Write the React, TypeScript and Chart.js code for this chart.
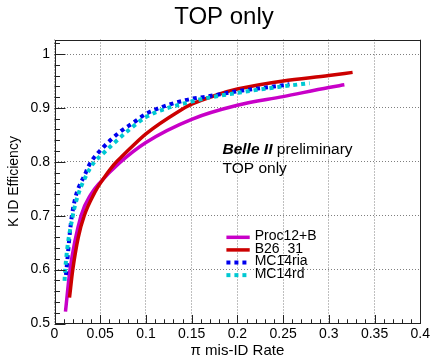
import React, { useEffect, useRef } from 'react';
import { Chart, registerables } from 'chart.js';

Chart.register(...registerables);

const FONT = "'Liberation Sans', Arial, Helvetica, sans-serif";

// ---- texts ----
const chartTitle = 'TOP only';
const xAxisTitle = 'π mis-ID Rate';
const yAxisTitle = 'K ID Efficiency';
const noteBold = 'Belle II';
const noteRest = 'preliminary';
const noteLine2 = 'TOP only';

// ---- ticks ----
const xTickValues = [0, 0.05, 0.1, 0.15, 0.2, 0.25, 0.3, 0.35, 0.4];
const yTickValues = [0.5, 0.6, 0.7, 0.8, 0.9, 1];

// ---- series ----
const seriesLabels = ['Proc12+B', 'B26_31', 'MC14ria', 'MC14rd'];

const proc12X = [0.012, 0.017, 0.029, 0.04, 0.05, 0.071, 0.1, 0.15, 0.2, 0.25, 0.3, 0.317];
const proc12Y = [0.522, 0.6, 0.7, 0.74, 0.762, 0.798, 0.836, 0.879, 0.905, 0.921, 0.938, 0.943];

const b26X = [0.0164, 0.02, 0.026, 0.0325, 0.044, 0.05, 0.065, 0.075, 0.1, 0.137, 0.15, 0.179, 0.2, 0.25, 0.3, 0.326];
const b26Y = [0.548, 0.6, 0.66, 0.7, 0.743, 0.76, 0.795, 0.812, 0.852, 0.895, 0.907, 0.925, 0.935, 0.95, 0.96, 0.966];

const mc14riaX = [0.0125, 0.019, 0.0347, 0.04, 0.0528, 0.0711, 0.0857, 0.1, 0.115, 0.129, 0.15, 0.166, 0.2, 0.25, 0.257];
const mc14riaY = [0.59, 0.7, 0.782, 0.8, 0.826, 0.855, 0.872, 0.889, 0.9, 0.908, 0.917, 0.921, 0.931, 0.942, 0.944];

const mc14rdX = [0.011, 0.0117, 0.02, 0.0255, 0.0347, 0.0437, 0.0528, 0.062, 0.082, 0.1, 0.15, 0.2, 0.25, 0.279];
const mc14rdY = [0.579, 0.6, 0.7, 0.737, 0.775, 0.8, 0.815, 0.83, 0.86, 0.883, 0.912, 0.928, 0.94, 0.946];

const seriesColors = ['#c800c8', '#cc0000', '#0000ee', '#00c8d2'];

const toPoints = (xs: number[], ys: number[]) => xs.map((x, i) => ({ x, y: ys[i] }));

const fmt = (v: number) => String(Number(v.toFixed(2)));

const rootStylePlugin = {
  id: 'rootStyle',
  afterDatasetsDraw(chart: any) {
    const { ctx, chartArea: a, scales } = chart;
    const xs = scales.x;
    const ys = scales.y;
    const w = a.right - a.left;
    const h = a.bottom - a.top;
    ctx.save();
    ctx.strokeStyle = '#222';
    ctx.lineWidth = 1;
    ctx.setLineDash([]);
    ctx.strokeRect(Math.round(a.left) + 0.5, Math.round(a.top) + 0.5, Math.round(w) - 1, Math.round(h) - 1);

    // y-axis ticks (inward)
    for (let i = 0; ; i++) {
      const v = ys.min + i * 0.02;
      if (v > ys.max + 1e-9) break;
      const py = Math.round(ys.getPixelForValue(v)) + 0.5;
      const len = i % 5 === 0 ? 0.03 * w : 0.015 * w;
      ctx.beginPath();
      ctx.moveTo(a.left, py);
      ctx.lineTo(a.left + len, py);
      ctx.stroke();
    }
    // x-axis ticks (inward)
    for (let i = 0; ; i++) {
      const v = xs.min + i * 0.01;
      if (v > xs.max + 1e-9) break;
      const px = Math.round(xs.getPixelForValue(v)) + 0.5;
      const len = i % 5 === 0 ? 0.03 * h : 0.015 * h;
      ctx.beginPath();
      ctx.moveTo(px, a.bottom);
      ctx.lineTo(px, a.bottom - len);
      ctx.stroke();
    }
    ctx.restore();
  },
  afterDraw(chart: any) {
    const { ctx, chartArea: a, width } = chart;
    const w = a.right - a.left;
    const h = a.bottom - a.top;
    ctx.save();
    ctx.fillStyle = '#000';

    // main title
    ctx.font = `24px ${FONT}`;
    ctx.textAlign = 'center';
    ctx.textBaseline = 'alphabetic';
    ctx.fillText(chartTitle, width * 0.5185, 24);

    // annotation
    ctx.textAlign = 'left';
    const nx = a.left + 0.4593 * w;
    const ny1 = a.top + 0.4032 * h;
    const ny2 = a.top + 0.4711 * h;
    ctx.font = `italic bold 15.5px ${FONT}`;
    ctx.fillText(noteBold, nx, ny1);
    const bw = ctx.measureText(noteBold).width;
    ctx.font = `15.5px ${FONT}`;
    const sw = ctx.measureText(' ').width;
    ctx.fillText(noteRest, nx + bw + sw, ny1);
    ctx.fillText(noteLine2, nx, ny2);

    // legend
    const lx1 = a.left + 0.47 * w;
    const lx2 = lx1 + 23.3;
    chart.data.datasets.forEach((ds: any, i: number) => {
      const ry = a.top + (0.6965 + i * 0.0444) * h;
      ctx.save();
      ctx.strokeStyle = ds.borderColor;
      ctx.lineWidth = ds.borderWidth;
      ctx.setLineDash(ds.borderDash || []);
      ctx.beginPath();
      ctx.moveTo(lx1, ry);
      ctx.lineTo(lx2, ry);
      ctx.stroke();
      ctx.restore();
      ctx.font = `14px ${FONT}`;
      ctx.textBaseline = 'middle';
      ctx.fillStyle = '#000';
      ctx.fillText(ds.label, lx2 + 5, ry - 1);
    });
    ctx.restore();
  },
};

export default function App() {
  const canvasRef = useRef<HTMLCanvasElement | null>(null);

  useEffect(() => {
    const canvas = canvasRef.current;
    if (!canvas) return;
    const xsList = [proc12X, b26X, mc14riaX, mc14rdX];
    const ysList = [proc12Y, b26Y, mc14riaY, mc14rdY];
    const dashed = [false, false, true, true];
    const datasets = seriesLabels.map((label, i) => ({
      label,
      data: toPoints(xsList[i], ysList[i]),
      showLine: true,
      borderColor: seriesColors[i],
      backgroundColor: seriesColors[i],
      borderWidth: dashed[i] ? 4 : 3.5,
      borderDash: dashed[i] ? [4, 4] : [],
      borderCapStyle: 'butt',
      pointRadius: 0,
      pointHoverRadius: 0,
      cubicInterpolationMode: 'monotone',
      order: 3 - i,
    }));

    const gridOpts = {
      drawTicks: false,
      color: 'rgba(0,0,0,0.5)',
      lineWidth: 1,
    };

    const chart = new Chart(canvas, {
      type: 'scatter',
      data: { datasets } as any,
      options: {
        responsive: false,
        animation: false,
        events: [],
        layout: { padding: { top: 39.5, right: 11.3, left: 0, bottom: 0 } },
        plugins: {
          legend: { display: false },
          tooltip: { enabled: false },
          title: { display: false },
        },
        scales: {
          x: {
            type: 'linear',
            min: 0,
            max: 0.4,
            afterFit: (s: any) => {
              s.height = 34.5;
            },
            afterBuildTicks: (s: any) => {
              s.ticks = xTickValues.map((v) => ({ value: v }));
            },
            ticks: {
              autoSkip: false,
              maxRotation: 0,
              minRotation: 0,
              padding: 2,
              color: '#000',
              font: { family: FONT, size: 14 },
              callback: (v: any) => fmt(Number(v)),
            },
            grid: gridOpts,
            border: { display: false, dash: [1, 2] },
            title: {
              display: true,
              text: xAxisTitle,
              color: '#000',
              font: { family: FONT, size: 15, lineHeight: 1 },
              padding: { top: 0, bottom: 0 },
            },
          },
          y: {
            type: 'linear',
            min: 0.5,
            max: 1.027,
            afterFit: (s: any) => {
              s.width = 54.5;
            },
            afterBuildTicks: (s: any) => {
              s.ticks = yTickValues.map((v) => ({ value: v }));
            },
            ticks: {
              autoSkip: false,
              padding: 4.5,
              color: '#000',
              font: { family: FONT, size: 14 },
              callback: (v: any) => fmt(Number(v)),
            },
            grid: gridOpts,
            border: { display: false, dash: [1, 2] },
            title: {
              display: true,
              text: yAxisTitle,
              color: '#000',
              font: { family: FONT, size: 14 },
              padding: { top: 6, bottom: 0 },
            },
          },
        },
      } as any,
      plugins: [rootStylePlugin],
    });
    return () => chart.destroy();
  }, []);

  return (
    <div style={{ position: 'absolute', left: 0, top: 0, width: 432, height: 358, background: '#fff' }}>
      <canvas ref={canvasRef} width={432} height={358} style={{ display: 'block' }} />
    </div>
  );
}
